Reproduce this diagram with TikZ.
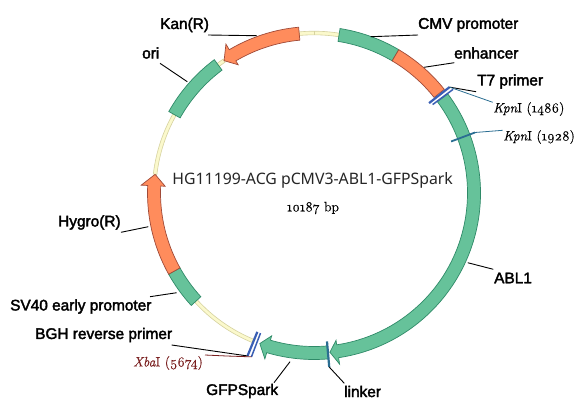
\documentclass[tikz,border=0pt]{standalone}
\usepackage{fontspec}
\setmainfont{Liberation Sans}
\newfontfamily\labfont[FakeBold=2.3]{Liberation Sans}
\newfontfamily\titlefont{Noto Sans}
\newfontfamily\serfont[Numbers=OldStyle,FakeBold=0.5]{Latin Modern Roman}
\definecolor{bandgreen}{HTML}{66C29A}
\definecolor{bandgreenline}{HTML}{2F8A68}
\definecolor{bandorange}{HTML}{FF8C5C}
\definecolor{bandorangeline}{HTML}{A04A38}
\definecolor{backfill}{HTML}{FBF9CC}
\definecolor{backline}{HTML}{D6D2A0}
\definecolor{siteblue}{HTML}{3A5FB5}
\definecolor{siteteal}{HTML}{2B6E92}
\definecolor{xbared}{HTML}{7A1F1F}
\tikzset{
  lab/.style={font=\labfont\fontsize{15.4}{18}\selectfont,inner sep=0pt,text=black},
  enz/.style={font=\serfont\fontsize{13.7}{16}\selectfont,inner sep=0pt},
  lead/.style={draw=black,line width=0.9pt},
  greenband/.style={fill=bandgreen,draw=bandgreenline,line width=0.7pt},
  orangeband/.style={fill=bandorange,draw=bandorangeline,line width=0.7pt},
  backbone/.style={fill=backfill,draw=backline,line width=0.6pt},
}
% style, start angle, end angle, inner radius, outer radius
\newcommand\ringband[5]{\path[#1] (#2:#4pt) arc[start angle=#2,end angle=#3,radius=#4pt] -- (#3:#5pt) arc[start angle=#3,end angle=#2,radius=#5pt] -- cycle;}
% style, start angle, head base angle, tip angle
\newcommand\ringarrow[4]{\path[#1] (#2:153.5pt) arc[start angle=#2,end angle=#3,radius=153.5pt] -- (#3:149pt) -- (#4:160pt) -- (#3:173pt) -- (#3:166.5pt) arc[start angle=#3,end angle=#2,radius=166.5pt] -- cycle;}
\begin{document}
\begin{tikzpicture}[x=1pt,y=-1pt]
\useasboundingbox (0,0) rectangle (580,418);
\fill[white] (0,0) rectangle (580,418);
\begin{scope}[shift={(314,193)}]
 \ringband{backbone}{95.3}{81}{158.2}{161.8}
 \ringband{backbone}{126.8}{124.2}{158.2}{161.8}
 \ringband{backbone}{173.3}{150.7}{158.2}{161.8}
 \ringband{backbone}{247.5}{222.5}{158.2}{161.8}
 \draw[backline,line width=0.6pt] (90:158.2pt) -- (90:161.8pt);
 \ringband{greenband}{81}{59.4}{153.5}{166.5}
 \ringband{orangeband}{59.4}{38.5}{153.5}{166.5}
 \ringarrow{greenband}{36.5}{-81.5}{-84.3}
 \ringarrow{greenband}{275}{253.5}{250.2}
 \ringband{greenband}{222.5}{209.2}{153.5}{166.5}
 \ringarrow{orangeband}{209.2}{177.4}{173.3}
 \ringband{greenband}{150.7}{126.8}{153.5}{166.5}
 \ringarrow{orangeband}{95.3}{120.6}{124.2}
 \draw[siteblue,line width=2.2pt] (38:146pt) coordinate (tA) -- (38:172pt) coordinate (tB);
 \draw[siteblue,line width=1.5pt] (36.7:148pt) -- (36.7:173.5pt);
 \draw[siteteal,line width=1.8pt] (20.6:146.5pt) -- (20.6:172pt) coordinate (kB);
 \draw[siteteal,line width=2.2pt] (275:149pt) -- (275:174.7pt) coordinate (linkA);
 \draw[siteblue,line width=2.2pt] (247.8:150pt) -- (247.8:176pt) coordinate (bghA);
 \draw[siteblue,line width=1.5pt] (249.1:150pt) -- (249.1:175.4pt) coordinate (xbaA);
\end{scope}
\node[lab,anchor=west] (cmv) at (418,25) {CMV promoter};
\node[lab,anchor=west] (enh) at (454,53) {enhancer};
\node[lab,anchor=west] (t7) at (477,81.5) {T7 primer};
\node[enz,anchor=west] (k1) at (493,109) {\itshape Kpn\upshape I (1486)};
\node[enz,anchor=west] (k2) at (503,137) {\itshape Kpn\upshape I (1928)};
\node[lab,anchor=west] (abl) at (494,278) {ABL1};
\node[lab,anchor=west] (lnk) at (344,391.5) {linker};
\node[lab,anchor=west] (gfp) at (206,391) {GFPSpark};
\node[enz,anchor=west,text=xbared] (xba) at (133,363) {\itshape Xba\upshape I (5674)};
\node[lab,anchor=west] (bgh) at (35,335) {BGH reverse primer};
\node[lab,anchor=west] (sv) at (10,306.5) {SV40 early promoter};
\node[lab,anchor=west] (hyg) at (58,222.5) {Hygro(R)};
\node[lab,anchor=west] (ori) at (142,53) {ori};
\node[lab,anchor=west] (kan) at (160,25) {Kan(R)};
\node[font=\titlefont\fontsize{15.8}{18}\selectfont,inner sep=0pt,text=black!85] (title) at (312.7,180.5) {HG11199-ACG pCMV3-ABL1-GFPSpark};
\node[enz] (size) at (313,208) {10187 bp};
\coordinate (cmvA) at (370.7,36.7); \coordinate (cmvB) at (418,35);
\coordinate (enhA) at (424,67.3); \coordinate (enhB) at (454.3,62.7);
\coordinate (t7B) at (476,91.7);
\coordinate (k1B) at (492.7,102.3);
\coordinate (k2B) at (502.7,130.3);
\coordinate (kanA) at (256.7,35.7); \coordinate (kanB) at (208,35);
\coordinate (oriA) at (187.3,81.7); \coordinate (oriB) at (160,63.3);
\coordinate (hygA) at (148.3,226.7); \coordinate (hygB) at (121,232.3);
\coordinate (svA) at (176.7,292.7); \coordinate (svB) at (150,296.7);
\coordinate (bghB) at (171.7,345);
\coordinate (xbaB) at (205,355); \coordinate (xbaM) at (226.7,356);
\coordinate (gfpA) at (290,361.7); \coordinate (gfpB) at (274,382.7);
\coordinate (lnkB) at (344.3,383.3);
\coordinate (ablA) at (467.7,262.7); \coordinate (ablB) at (493.3,269.3);
\draw[lead] (cmvA) -- (cmvB);
\draw[lead] (enhA) -- (enhB);
\draw[lead] (tB) -- (t7B);
\draw[siteteal,line width=0.8pt] (tB) -- (k1B);
\draw[siteteal,line width=0.8pt] (kB) -- (k2B);
\draw[lead] (kanA) -- (kanB);
\draw[lead] (oriA) -- (oriB);
\draw[lead] (hygA) -- (hygB);
\draw[lead] (svA) -- (svB);
\draw[lead] (bghA) -- (bghB);
\draw[xbared,line width=0.8pt] (xbaA) -- (xbaM) -- (xbaB);
\draw[lead] (gfpA) -- (gfpB);
\draw[lead] (linkA) -- (lnkB);
\draw[lead] (ablA) -- (ablB);
\end{tikzpicture}
\end{document}
